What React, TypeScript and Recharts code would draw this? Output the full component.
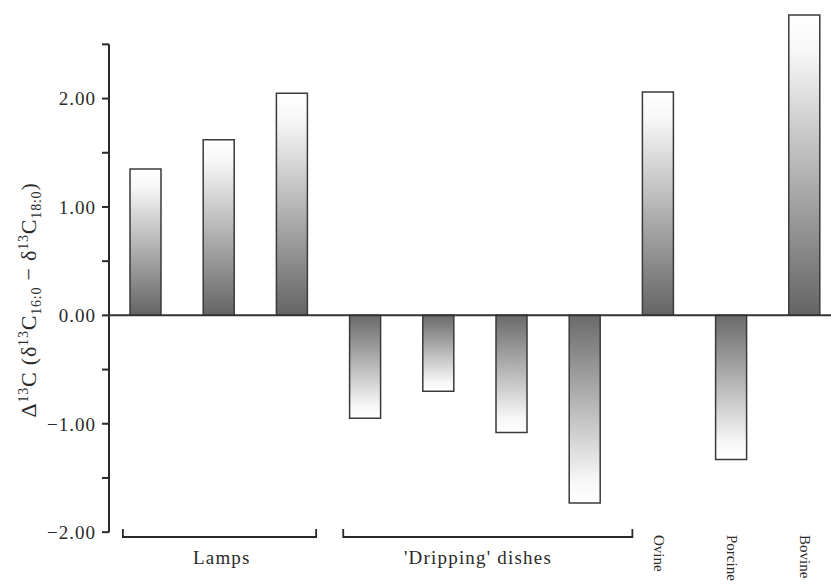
import { Bar, BarChart, Cell, ReferenceLine, XAxis, YAxis } from 'recharts';

const categories = ['Lamp 1', 'Lamp 2', 'Lamp 3', 'Dish 1', 'Dish 2', 'Dish 3', 'Dish 4', 'Ovine', 'Porcine', 'Bovine'];
const delta13C = [1.35, 1.62, 2.05, -0.95, -0.7, -1.08, -1.73, 2.06, -1.33, 2.77];
const yTicks = [-2, -1.5, -1, -0.5, 0, 0.5, 1, 1.5, 2, 2.5];

// bracketed groups along the bottom (index ranges into categories)
const groupLabels = ['Lamps', "'Dripping' dishes"];
const groupFirst = [0, 3];
const groupLast = [2, 6];
// categories labelled on their own, written vertically
const singleLabels = ['Ovine', 'Porcine', 'Bovine'];

const data = categories.map((name, i) => ({ name, value: delta13C[i] }));

const FONT = "'Liberation Serif', 'Times New Roman', serif";
const INK = '#2a2a2a';
// how far each bracket runs past its outer bars, in band widths
const bracketPadL = [0.31, 0.3];
const bracketPadR = [0.33, 0.65];

const fmt = (v: number) => (Number.isInteger(v) ? (v < 0 ? '\u2212' : '') + Math.abs(v).toFixed(2) : '');

const XTick = (props: any) => {
  const { x, y, payload, index, width } = props;
  const band = (width || 732) / categories.length;
  const g = groupFirst.indexOf(index);
  if (g >= 0) {
    const span = (groupLast[g] - groupFirst[g]) * band;
    const left = x - band * bracketPadL[g];
    const right = x + span + band * bracketPadR[g];
    return (
      <g>
        <path d={`M${left},${y - 14} L${left},${y - 6} L${right},${y - 6} L${right},${y - 14}`} fill="none" stroke={INK} strokeWidth={1.8} />
        <text x={x + span / 2 + 3} y={y + 21} textAnchor="middle" fontFamily={FONT} fontSize={19} letterSpacing={1.2} fill={INK}>
          {groupLabels[g]}
        </text>
      </g>
    );
  }
  if (singleLabels.includes(payload.value)) {
    return (
      <text transform={`translate(${x + 1},${y - 8}) rotate(90)`} dominantBaseline="central" fontFamily={FONT} fontSize={15} fill={INK}>
        {payload.value}
      </text>
    );
  }
  return <g />;
};

const YTitle = () => (
  <text transform="translate(36,300) rotate(-90)" textAnchor="middle" fontFamily={FONT} fontSize={22} letterSpacing={0.8} fill={INK}>
    <tspan>Δ</tspan>
    <tspan dy={-8} fontSize={14}>13</tspan>
    <tspan dy={8}>C (δ</tspan>
    <tspan dy={-8} fontSize={14}>13</tspan>
    <tspan dy={8}>C</tspan>
    <tspan dy={5} fontSize={14}>16:0</tspan>
    <tspan dy={-5}> − δ</tspan>
    <tspan dy={-8} fontSize={14}>13</tspan>
    <tspan dy={8}>C</tspan>
    <tspan dy={5} fontSize={14}>18:0</tspan>
    <tspan dy={-5}>)</tspan>
  </text>
);

export default function App() {
  return (
    <div style={{ width: 841, height: 585 }}>
      <style>{'body{margin:0;overflow:hidden;background:#fff}'}</style>
      <BarChart width={841} height={585} data={data} margin={{ top: 1, right: 0, bottom: 0, left: 0 }}>
        <defs>
          <linearGradient id="gPos" x1="0" y1="0" x2="0" y2="1">
            <stop offset="0" stopColor="#ffffff" />
            <stop offset="0.12" stopColor="#f7f7f7" />
            <stop offset="1" stopColor="#646464" />
          </linearGradient>
          <linearGradient id="gNeg" x1="0" y1="0" x2="0" y2="1">
            <stop offset="0" stopColor="#6a6a6a" />
            <stop offset="0.88" stopColor="#f7f7f7" />
            <stop offset="1" stopColor="#ffffff" />
          </linearGradient>
        </defs>
        <XAxis
          dataKey="name"
          axisLine={false}
          tickLine={false}
          tickSize={0}
          tickMargin={0}
          height={42}
          interval={0}
          tick={(p: any) => <XTick {...p} />}
        />
        <XAxis xAxisId="n" type="number" domain={[0, 1]} hide />
        <YAxis
          domain={[-2.1, 2.9]}
          ticks={yTicks}
          width={109}
          axisLine={false}
          tickSize={7}
          tickMargin={6}
          tickLine={{ stroke: INK, strokeWidth: 2 }}
          tickFormatter={fmt}
          tick={{ fill: INK, fontSize: 19, fontFamily: FONT, letterSpacing: 1 }}
          label={{ content: () => <YTitle /> }}
        />
        <ReferenceLine xAxisId="n" segment={[{ x: 0, y: -2 }, { x: 0, y: 2.5 }]} stroke={INK} strokeWidth={2} />
        <ReferenceLine y={0} stroke="#333" strokeWidth={2} />
        <Bar dataKey="value" barSize={31} stroke="#3a3a3a" strokeWidth={1.5} isAnimationActive={false}>
          {data.map((d, i) => (
            <Cell key={i} fill={d.value >= 0 ? 'url(#gPos)' : 'url(#gNeg)'} />
          ))}
        </Bar>
      </BarChart>
    </div>
  );
}
